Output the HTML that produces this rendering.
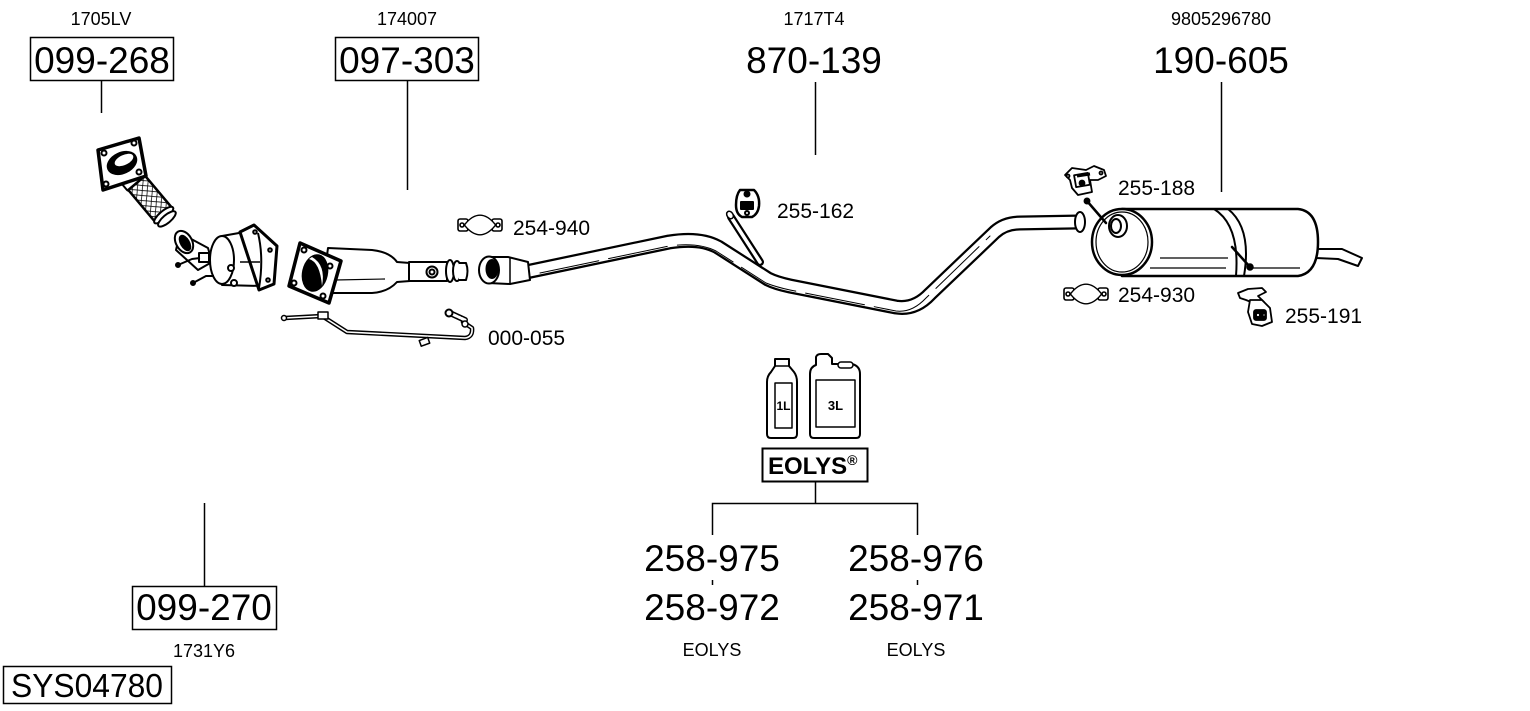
<!DOCTYPE html>
<html><head><meta charset="utf-8"><style>
html,body{margin:0;padding:0;background:#fff;}
svg{display:block;}
text{font-family:"Liberation Sans",Arial,sans-serif;fill:#000;}
</style></head><body>
<svg width="1530" height="711" viewBox="0 0 1530 711" xmlns="http://www.w3.org/2000/svg">
<defs>
<pattern id="mesh" width="5" height="5" patternUnits="userSpaceOnUse" patternTransform="rotate(45)">
<rect width="5" height="5" fill="#fff"/>
<path d="M0,0 L0,5 M0,0 L5,0" stroke="#000" stroke-width="1.6"/>
</pattern>
</defs>

<!-- ===== Top labels ===== -->
<text x="101" y="25" font-size="18" text-anchor="middle">1705LV</text>
<rect x="30.5" y="37.5" width="143" height="43" fill="none" stroke="#000" stroke-width="1.5"/>
<text x="102" y="73" font-size="37" text-anchor="middle">099-268</text>
<line x1="101.5" y1="80" x2="101.5" y2="113" stroke="#000" stroke-width="1.5"/>

<text x="407" y="25" font-size="18" text-anchor="middle">174007</text>
<rect x="335.5" y="37.5" width="143" height="43" fill="none" stroke="#000" stroke-width="1.5"/>
<text x="407" y="73" font-size="37" text-anchor="middle">097-303</text>
<line x1="407.5" y1="80" x2="407.5" y2="190" stroke="#000" stroke-width="1.5"/>

<text x="814" y="25" font-size="18" text-anchor="middle">1717T4</text>
<text x="814" y="73" font-size="37" text-anchor="middle">870-139</text>
<line x1="815.5" y1="82" x2="815.5" y2="155" stroke="#000" stroke-width="1.5"/>

<text x="1221" y="25" font-size="18" text-anchor="middle">9805296780</text>
<text x="1221" y="73" font-size="37" text-anchor="middle">190-605</text>
<line x1="1221.5" y1="82" x2="1221.5" y2="192" stroke="#000" stroke-width="1.5"/>

<!-- ===== Bottom left ===== -->
<line x1="204.5" y1="503" x2="204.5" y2="586" stroke="#000" stroke-width="1.5"/>
<rect x="132.5" y="586.5" width="144" height="43" fill="none" stroke="#000" stroke-width="1.5"/>
<text x="204" y="620" font-size="37" text-anchor="middle">099-270</text>
<text x="204" y="657" font-size="18" text-anchor="middle">1731Y6</text>
<rect x="3.5" y="666.5" width="168" height="37" fill="none" stroke="#000" stroke-width="1.5"/>
<text x="11" y="697" font-size="33" textLength="152" lengthAdjust="spacingAndGlyphs">SYS04780</text>

<!-- ===== Small part labels ===== -->
<text x="513" y="235" font-size="21">254-940</text>
<text x="777" y="218" font-size="21">255-162</text>
<text x="488" y="345" font-size="21">000-055</text>
<text x="1118" y="195" font-size="21">255-188</text>
<text x="1118" y="302" font-size="21">254-930</text>
<text x="1285" y="323" font-size="21">255-191</text>

<!-- ===== EOLYS ===== -->
<g stroke="#000" stroke-width="2" fill="#fff" stroke-linejoin="round">
  <!-- 1L bottle -->
  <path d="M771,372 L775,366 L775,359 L789,359 L789,366 L794,372 Q797,376 797,382 L797,434 Q797,438 793,438 L771,438 Q767,438 767,434 L767,382 Q767,376 771,372 Z"/>
  <line x1="775" y1="366" x2="789" y2="366" stroke-width="1.5"/>
  <rect x="775" y="383" width="17" height="45" stroke-width="1.5"/>
  <!-- 3L jug -->
  <path d="M810,374 Q810,367 816,365 L816,357 Q817,354 821,354 L828,354 L832,358 L832,364 L852,364 Q860,366 860,374 L860,434 Q860,438 856,438 L814,438 Q810,438 810,434 Z"/>
  <rect x="838" y="362" width="15" height="6" rx="3" stroke-width="1.5"/>
  <rect x="816" y="380" width="39" height="47" stroke-width="1.5"/>
</g>
<text x="783.5" y="410" font-size="12" font-weight="bold" text-anchor="middle">1L</text>
<text x="835.5" y="410" font-size="13" font-weight="bold" text-anchor="middle">3L</text>
<rect x="762.5" y="448.5" width="105" height="33" fill="none" stroke="#000" stroke-width="2"/>
<text x="768" y="474" font-size="24" font-weight="bold">EOLYS<tspan font-size="14" dy="-9">®</tspan></text>
<line x1="815.5" y1="481" x2="815.5" y2="503" stroke="#000" stroke-width="1.5"/>
<path d="M712.5,535 L712.5,503.5 L917.5,503.5 L917.5,535" fill="none" stroke="#000" stroke-width="1.5"/>
<text x="712" y="571" font-size="37" text-anchor="middle">258-975</text>
<line x1="712.5" y1="580" x2="712.5" y2="585" stroke="#000" stroke-width="1.5"/>
<text x="712" y="620" font-size="37" text-anchor="middle">258-972</text>
<text x="712" y="656" font-size="18" text-anchor="middle">EOLYS</text>
<text x="916" y="571" font-size="37" text-anchor="middle">258-976</text>
<line x1="917.5" y1="580" x2="917.5" y2="585" stroke="#000" stroke-width="1.5"/>
<text x="916" y="620" font-size="37" text-anchor="middle">258-971</text>
<text x="916" y="656" font-size="18" text-anchor="middle">EOLYS</text>

<!-- ===== Part 1: flex pipe 099-268 ===== -->
<g stroke="#000" stroke-width="2" fill="#fff" stroke-linejoin="round">
  <g transform="translate(120,163) rotate(50)">
    <rect x="14" y="-12" width="14" height="24" rx="3"/>
    <rect x="26" y="-11" width="40" height="22" fill="url(#mesh)" stroke-width="2.5"/>
    <ellipse cx="68" cy="0" rx="4" ry="12"/>
    <ellipse cx="73" cy="0" rx="4" ry="11"/>
  </g>
  <polygon points="98,150 139,138 146,176 103,190" stroke-width="3.5"/>
  <ellipse cx="122" cy="163" rx="15" ry="10" transform="rotate(-25 122 163)" fill="#000"/>
  <ellipse cx="124" cy="160" rx="10" ry="5" transform="rotate(-25 124 160)" fill="#fff" stroke="none"/>
  <circle cx="104" cy="153" r="2.5"/><circle cx="134" cy="143" r="2.5"/>
  <circle cx="139" cy="172" r="2.5"/><circle cx="106" cy="184" r="2.5"/>
</g>

<!-- ===== Part 2: small cat 099-270 ===== -->
<g stroke="#000" stroke-width="2" fill="#fff" stroke-linejoin="round">
  <path d="M180,233 L208,248 L212,262 L198,270 L176,250 Z"/>
  <ellipse cx="184" cy="242" rx="8" ry="12" transform="rotate(-30 184 242)"/>
  <ellipse cx="185" cy="243" rx="4" ry="8" transform="rotate(-30 185 243)" fill="#000"/>
  <path d="M222,236 L256,230 L262,286 L222,285 Z"/>
  <ellipse cx="222" cy="260" rx="12" ry="24"/>
  <polygon points="240,232 254,225 277,246 274,284 259,290" stroke-width="3"/>
  <path d="M258,233 Q264,258 259,288" fill="none"/>
  <rect x="199" y="253" width="10" height="9"/>
  <circle cx="231" cy="268" r="3"/><circle cx="234" cy="283" r="3"/>
  <circle cx="270" cy="250" r="1.8"/><circle cx="268" cy="280" r="1.8"/><circle cx="255" cy="232" r="1.8"/>
  <line x1="240" y1="262" x2="260" y2="262" stroke-width="1.5"/>
  <path d="M178,265 L192,259 L200,258" fill="none"/>
  <path d="M193,283 L206,276 L214,276" fill="none"/>
  <circle cx="178" cy="265" r="2" fill="#000"/><circle cx="193" cy="283" r="2" fill="#000"/>
</g>

<!-- ===== Part 3: DPF 097-303 ===== -->
<g stroke="#000" stroke-width="2" fill="#fff" stroke-linejoin="round">
  <path d="M328,248 L372,250 Q390,252 397,262 L410,263 L410,281 L397,282 Q388,292 372,293 L322,293 Z"/>
  <line x1="335" y1="280" x2="385" y2="279" stroke-width="1.2"/>
  <rect x="409" y="262" width="38" height="19"/>
  <circle cx="432" cy="272" r="5.5"/><circle cx="432" cy="272" r="2.5"/>
  <ellipse cx="450" cy="271" rx="4" ry="11"/>
  <ellipse cx="457" cy="271" rx="4" ry="10"/>
  <path d="M459,263 L466,263 Q469,271 466,280 L459,280"/>
  <polygon points="300,243 341,261 329,303 289,286" stroke-width="3.5"/>
  <ellipse cx="315" cy="273" rx="12" ry="18" transform="rotate(12 315 273)" fill="#000"/>
  <path d="M309,259 Q320,262 322,286 Q326,265 312,257 Z" fill="#fff" stroke="none"/>
  <circle cx="304" cy="250" r="2.5"/><circle cx="330" cy="266" r="2.5"/>
  <circle cx="323" cy="296" r="2.5"/><circle cx="294" cy="283" r="2.5"/>
</g>

<!-- ===== Sensor line 000-055 ===== -->
<g stroke="#000" fill="none" stroke-linejoin="round" stroke-linecap="round">
  <path d="M285,318 L322,316 L347,332 L465,338 Q473,337 472,328 L463,322" stroke-width="4.5"/>
  <path d="M285,318 L322,316 L347,332 L465,338 Q473,337 472,328 L463,322" stroke="#fff" stroke-width="1.6"/>
  <circle cx="284" cy="318" r="2.5" fill="#fff" stroke-width="1.5"/>
  <rect x="318" y="312" width="10" height="7" fill="#fff" stroke-width="1.5"/>
  <rect x="420" y="339" width="9" height="6" fill="#fff" stroke-width="1.5" transform="rotate(-20 424 342)"/>
  <path d="M452,314 L465,320" stroke-width="6"/>
  <path d="M452,314 L465,320" stroke="#fff" stroke-width="3" stroke-dasharray="2 1.5"/>
  <circle cx="449" cy="313" r="3.5" fill="#fff" stroke-width="2"/>
  <circle cx="465" cy="324" r="3" fill="#fff" stroke-width="1.5"/>
</g>

<!-- ===== Front pipe cone + main pipe 870-139 ===== -->
<g fill="none" stroke-linejoin="round" stroke-linecap="round">
  <path d="M526,272 L669,242 Q700,237 718,247 L768,279 Q776,283 790,286 L896,307 Q915,310 930,294 L995,232 Q1005,223 1020,223 L1078,222" stroke="#000" stroke-width="15"/>
  <path d="M526,272 L669,242 Q700,237 718,247 L768,279 Q776,283 790,286 L896,307 Q915,310 930,294 L995,232 Q1005,223 1020,223 L1078,222" stroke="#fff" stroke-width="10.5"/>
  <path d="M540,273 L669,246 Q698,242 716,251 L766,283 Q776,287 790,290 L896,311 Q912,313 926,298 L990,236" stroke="#000" stroke-width="1" stroke-dasharray="60 10"/>
</g>
<g stroke="#000" stroke-width="2" fill="#fff" stroke-linejoin="round">
  <path d="M488,257 L508,257 L528,262 L530,280 L510,284 L488,283 Z"/>
  <line x1="510" y1="258" x2="510" y2="283" stroke-width="1.5"/>
  <ellipse cx="489" cy="270" rx="10" ry="13.5"/>
  <ellipse cx="492" cy="269" rx="5.5" ry="9" fill="#000"/>
  <ellipse cx="1080" cy="222" rx="5" ry="10"/>
</g>
<!-- hanger rod on pipe -->
<g stroke-linecap="round">
  <line x1="731" y1="217" x2="760" y2="262" stroke="#000" stroke-width="8"/>
  <line x1="731" y1="217" x2="760" y2="262" stroke="#fff" stroke-width="3.5"/>
  <ellipse cx="730" cy="215" rx="3" ry="4" fill="#fff" stroke="#000" stroke-width="1.5" transform="rotate(-35 730 215)"/>
</g>

<!-- ===== Muffler 190-605 ===== -->
<g stroke="#000" stroke-width="2" fill="#fff" stroke-linejoin="round">
  <path d="M1316,249 L1342,249 L1362,258 L1358,266 L1338,259 L1316,258 Z"/>
  <path d="M1122,209 L1298,209 Q1318,211 1318,242 Q1318,273 1298,276 L1122,276 Z" stroke-width="2.5"/>
  <path d="M1214,209 Q1240,225 1236,276" fill="none"/>
  <path d="M1228,209 Q1252,228 1244,276" fill="none"/>
  <line x1="1160" y1="258" x2="1228" y2="258" stroke-width="1.2"/>
  <line x1="1150" y1="268" x2="1226" y2="268" stroke-width="1.2"/>
  <line x1="1250" y1="268" x2="1300" y2="268" stroke-width="1.2"/>
  <ellipse cx="1122" cy="242" rx="30" ry="33" stroke-width="2.5"/>
  <ellipse cx="1122" cy="242" rx="26" ry="30" stroke-width="1.2"/>
  <ellipse cx="1118" cy="226" rx="9" ry="11"/>
  <ellipse cx="1116" cy="226" rx="5" ry="7"/>
</g>
<g stroke="#000" stroke-width="2.5" stroke-linecap="round">
  <line x1="1087" y1="201" x2="1106" y2="223"/>
  <circle cx="1087" cy="201" r="2.2" fill="#000"/>
  <line x1="1232" y1="247" x2="1250" y2="267"/>
  <circle cx="1250" cy="267" r="2.5" fill="#000"/>
</g>

<!-- ===== Clamps 254-940 / 254-930 ===== -->
<g id="clamp" stroke="#000" stroke-width="1.6" fill="#fff" stroke-linejoin="round">
  <rect x="458" y="219" width="10" height="12" rx="2"/>
  <rect x="492" y="219" width="10" height="12" rx="2"/>
  <path d="M466,225 Q480,208 494,225 Q480,242 466,225 Z" stroke-width="4"/>
  <path d="M466,225 Q480,208 494,225 Q480,242 466,225 Z" stroke="#fff" stroke-width="1.2"/>
  <circle cx="462" cy="225" r="2"/><circle cx="498" cy="225" r="2"/>
</g>
<g stroke="#000" stroke-width="1.6" fill="#fff" stroke-linejoin="round" transform="translate(606,69)">
  <rect x="458" y="219" width="10" height="12" rx="2"/>
  <rect x="492" y="219" width="10" height="12" rx="2"/>
  <path d="M466,225 Q480,208 494,225 Q480,242 466,225 Z" stroke-width="4"/>
  <path d="M466,225 Q480,208 494,225 Q480,242 466,225 Z" stroke="#fff" stroke-width="1.2"/>
  <circle cx="462" cy="225" r="2"/><circle cx="498" cy="225" r="2"/>
</g>

<!-- ===== Hanger 255-162 ===== -->
<g stroke="#000" stroke-width="2" fill="#fff" stroke-linejoin="round">
  <path d="M740,190 L754,190 Q760,196 759,206 Q758,214 752,217 L742,217 Q736,214 736,205 Q736,195 740,190 Z" stroke-width="2.5"/>
  <circle cx="747" cy="194" r="2.5" fill="#000"/>
  <path d="M741,202 L753,202 L753,209 L741,209 Z" fill="#000"/>
  <circle cx="747" cy="213" r="2"/>
</g>

<!-- ===== Bracket 255-188 ===== -->
<g stroke="#000" stroke-width="1.8" fill="#fff" stroke-linejoin="round">
  <path d="M1065,175 L1072,168 L1086,170 L1094,166 L1104,170 L1106,176 L1098,180 L1090,180 L1092,192 L1078,195 L1072,188 L1070,180 Z"/>
  <rect x="1075" y="174" width="14" height="12" transform="rotate(-10 1082 180)"/>
  <path d="M1077,176 L1090,174" stroke-width="3"/>
  <circle cx="1082" cy="183" r="2.5" fill="#000"/>
  <circle cx="1068" cy="176" r="1.5"/><circle cx="1101" cy="173" r="1.5"/>
</g>

<!-- ===== Bracket 255-191 ===== -->
<g stroke="#000" stroke-width="1.8" fill="#fff" stroke-linejoin="round">
  <path d="M1238,293 L1248,289 L1262,288 L1266,292 L1258,296 L1264,302 L1256,304 L1246,300 L1240,298 Z"/>
  <path d="M1250,300 L1262,300 L1270,308 L1272,322 L1262,326 L1252,324 L1248,312 Z"/>
  <rect x="1254" y="310" width="12" height="10" rx="2" fill="#000"/>
  <circle cx="1258" cy="315" r="2"/><circle cx="1264" cy="315" r="1.5"/>
</g>

</svg>
</body></html>
